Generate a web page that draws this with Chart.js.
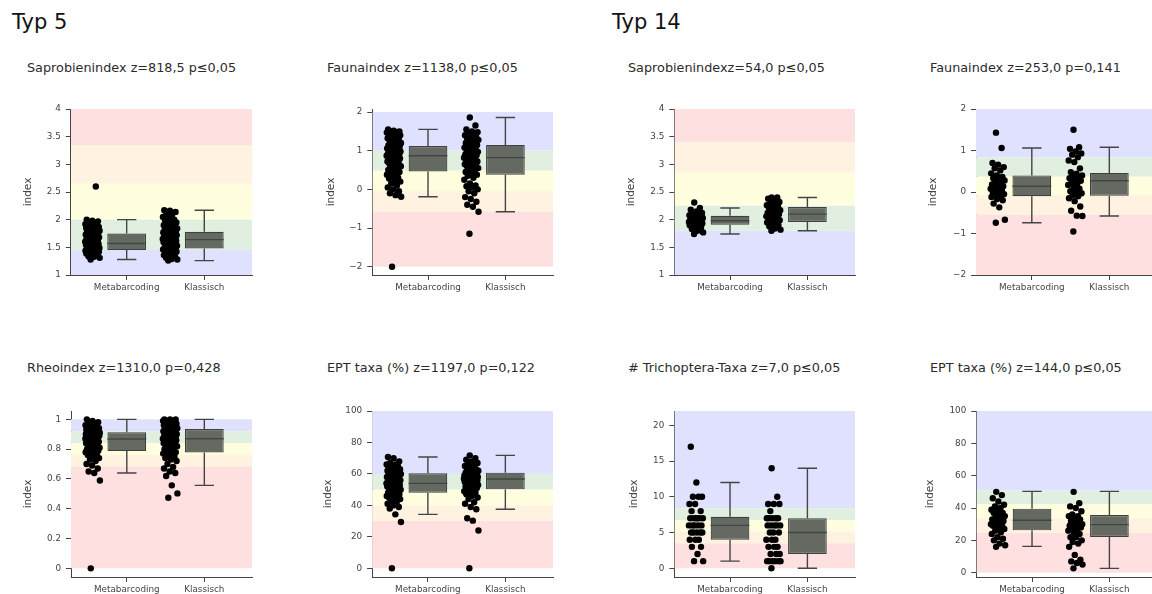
<!DOCTYPE html>
<html>
<head>
<meta charset="utf-8">
<script src="https://cdn.jsdelivr.net/npm/chart.js@4.4.1/dist/chart.umd.min.js"></script>
<style>
  html, body { margin:0; padding:0; width:1152px; height:594px; overflow:hidden; background:#fff; }
  body { position:relative; font-family:"DejaVu Sans", Verdana, sans-serif; }
  .txt { position:absolute; white-space:nowrap; line-height:1; }
  .head { font-size:21px; color:#111; }
  .sub { font-size:12.8px; color:#2b2b2b; }
  canvas { position:absolute; }
</style>
</head>
<body>
<script>
// ---------- categories and headings ----------
const categories = ['Metabarcoding', 'Klassisch'];
const groupHeadings = ['Typ 5', 'Typ 14'];
const panelTitles = [
  'Saprobienindex z=818,5 p≤0,05',
  'Faunaindex z=1138,0 p≤0,05',
  'Saprobienindexz=54,0 p≤0,05',
  'Faunaindex z=253,0 p=0,141',
  'Rheoindex z=1310,0 p=0,428',
  'EPT taxa (%) z=1197,0 p=0,122',
  '# Trichoptera-Taxa z=7,0 p≤0,05',
  'EPT taxa (%) z=144,0 p≤0,05'
];

// ---------- Typ 5: Saprobienindex ----------
const sapro5Meta = [1.28,1.31,1.33,1.34,1.36,1.37,1.39,1.40,1.41,1.42,1.43,1.43,1.44,1.44,1.44,1.45,1.45,1.45,1.46,
  1.46,1.47,1.48,1.49,1.50,1.51,1.52,1.53,1.54,1.55,1.55,1.56,1.57,1.57,1.58,1.59,1.60,1.61,1.62,
  1.63,1.64,1.65,1.66,1.67,1.68,1.69,1.70,1.71,1.72,1.73,1.74,1.75,1.76,1.77,1.78,1.79,1.80,1.80,
  1.81,1.82,1.83,1.84,1.85,1.85,1.86,1.87,1.88,1.89,1.90,1.91,1.92,1.94,1.95,1.97,1.98,2.00,2.60];
const sapro5Klass = [1.26,1.28,1.29,1.31,1.32,1.34,1.36,1.38,1.40,1.42,1.43,1.44,1.45,1.45,1.46,1.46,1.47,1.47,1.48,
  1.49,1.50,1.52,1.53,1.54,1.55,1.57,1.58,1.59,1.60,1.61,1.62,1.62,1.63,1.64,1.64,1.65,1.66,1.67,
  1.68,1.68,1.69,1.70,1.71,1.72,1.73,1.74,1.75,1.76,1.77,1.78,1.78,1.79,1.80,1.81,1.82,1.83,1.84,
  1.85,1.86,1.88,1.89,1.90,1.92,1.93,1.95,1.97,1.98,2.00,2.02,2.05,2.08,2.10,2.14,2.16,2.17];
const sapro5Box = [[1.28,1.45,1.57,1.75,2.00],[1.26,1.48,1.64,1.78,2.17]];
const sapro5Edges = [1, 1.45, 2.0, 2.65, 3.35, 4];
const sapro5Ticks = [1, 1.5, 2, 2.5, 3, 3.5, 4];

// ---------- Typ 5: Faunaindex ----------
const fauna5Meta = [-2.0,-0.19,-0.15,-0.10,-0.05,0.0,0.05,0.10,0.15,0.20,0.22,0.28,0.30,0.35,0.38,0.40,0.42,0.45,0.46,
  0.50,0.55,0.58,0.60,0.62,0.65,0.68,0.70,0.72,0.75,0.78,0.80,0.82,0.84,0.85,0.86,0.87,0.87,0.88,
  0.90,0.92,0.93,0.95,0.96,0.98,1.00,1.02,1.03,1.05,1.06,1.08,1.10,1.11,1.12,1.14,1.16,1.18,1.20,
  1.22,1.25,1.28,1.30,1.32,1.35,1.38,1.40,1.42,1.43,1.45,1.46,1.47,1.48,1.50,1.50,1.52,1.55];
const fauna5Klass = [-1.15,-0.58,-0.45,-0.40,-0.32,-0.25,-0.20,-0.10,-0.05,0.0,0.05,0.08,0.10,0.15,0.25,0.30,0.35,0.38,0.40,
  0.45,0.48,0.50,0.55,0.58,0.60,0.62,0.65,0.65,0.68,0.70,0.72,0.72,0.75,0.78,0.80,0.82,0.83,0.85,0.88,0.90,
  0.90,0.92,0.95,0.97,1.00,1.00,1.02,1.05,1.08,1.10,1.12,1.15,1.18,1.20,1.22,1.25,1.28,1.30,1.32,1.35,1.38,
  1.40,1.42,1.45,1.48,1.50,1.55,1.65,1.86];
const fauna5Box = [[-0.19,0.46,0.87,1.12,1.55],[-0.58,0.38,0.82,1.15,1.86]];
const fauna5Edges = [-2, -0.58, -0.04, 0.48, 1.0, 2];
const fauna5Ticks = [-2, -1, 0, 1, 2];

// ---------- Typ 14: Saprobienindex ----------
const sapro14Meta = [1.74,1.77,1.80,1.83,1.86,1.88,1.90,1.91,1.92,1.93,1.93,1.94,1.95,1.95,1.96,1.97,1.98,1.98,
  1.99,2.00,2.01,2.02,2.03,2.04,2.05,2.06,2.07,2.08,2.09,2.10,2.12,2.15,2.18,2.21,2.31];
const sapro14Klass = [1.80,1.82,1.84,1.88,1.90,1.93,1.95,1.96,1.97,1.99,2.00,2.02,2.04,2.05,2.06,2.08,2.09,2.10,
  2.11,2.12,2.14,2.15,2.17,2.19,2.21,2.23,2.24,2.26,2.28,2.30,2.32,2.35,2.38,2.40,2.40];
const sapro14Box = [[1.74,1.91,1.98,2.07,2.21],[1.80,1.96,2.10,2.23,2.40]];
const sapro14Edges = [1, 1.8, 2.25, 2.85, 3.4, 4];
const sapro14Ticks = [1, 1.5, 2, 2.5, 3, 3.5, 4];

// ---------- Typ 14: Faunaindex ----------
const fauna14Meta = [-0.74,-0.67,-0.37,-0.28,-0.20,-0.17,-0.12,-0.10,-0.08,-0.05,-0.02,0.0,0.03,0.05,0.08,0.10,0.12,
  0.14,0.16,0.18,0.22,0.25,0.28,0.30,0.33,0.36,0.40,0.45,0.52,0.57,0.60,0.66,0.70,1.06,1.43];
const fauna14Klass = [-0.95,-0.58,-0.57,-0.45,-0.35,-0.22,-0.15,-0.10,-0.08,-0.03,0.0,0.02,0.08,0.12,0.17,0.20,0.24,
  0.27,0.30,0.33,0.36,0.38,0.40,0.44,0.48,0.57,0.72,0.76,0.84,0.90,0.93,0.98,1.04,1.08,1.50];
const fauna14Box = [[-0.74,-0.10,0.14,0.40,1.06],[-0.58,-0.09,0.27,0.46,1.08]];
const fauna14Edges = [-2, -0.55, -0.08, 0.37, 0.83, 2];
const fauna14Ticks = [-2, -1, 0, 1, 2];

// ---------- Typ 5: Rheoindex ----------
const rheo5Meta = [0.0,0.59,0.64,0.65,0.67,0.69,0.70,0.72,0.73,0.74,0.75,0.76,0.76,0.77,0.78,0.78,0.79,0.79,0.80,0.80,
  0.80,0.81,0.81,0.82,0.82,0.83,0.83,0.84,0.84,0.85,0.85,0.85,0.86,0.86,0.86,0.87,0.87,0.87,0.88,0.88,0.88,0.88,
  0.89,0.89,0.89,0.89,0.90,0.90,0.90,0.90,0.90,0.90,0.91,0.91,0.91,0.91,0.91,0.92,0.92,0.92,0.93,0.93,0.93,
  0.94,0.94,0.95,0.95,0.95,0.96,0.96,0.97,0.97,0.98,0.99,1.0];
const rheo5Klass = [0.474,0.503,0.557,0.62,0.64,0.65,0.67,0.68,0.70,0.72,0.73,0.74,0.75,0.76,0.77,0.77,0.78,0.78,
  0.79,0.80,0.80,0.81,0.82,0.82,0.83,0.83,0.84,0.84,0.85,0.85,0.86,0.86,0.86,0.87,0.87,0.87,0.88,0.88,0.88,
  0.89,0.89,0.89,0.90,0.90,0.90,0.91,0.91,0.91,0.92,0.92,0.92,0.93,0.93,0.93,0.94,0.94,0.94,0.95,0.95,0.95,
  0.96,0.96,0.96,0.97,0.97,0.97,0.98,0.98,0.98,0.99,0.99,0.99,1.0,1.0,1.0];
const rheo5Box = [[0.64,0.787,0.868,0.913,1.0],[0.557,0.778,0.87,0.935,1.0]];
const rheo5Edges = [0, 0.68, 0.76, 0.84, 0.92, 1];
const rheo5Ticks = [0, 0.2, 0.4, 0.6, 0.8, 1];

// ---------- Typ 5: EPT taxa (%) ----------
const ept5Meta = [0,29.4,34.3,38,39,40,41,42,43,44,45,45,45,46,46,47,47,47,48,48,49,49,50,50,50,51,51,52,52,52,53,53,53,
  53,54,54,54,54,55,55,55,56,56,56,57,57,57,58,58,58,58,59,59,59,60,60,60,61,61,61,62,62,62,63,63,64,64,65,65,
  66,66,67,68,70,70.8];
const ept5Klass = [0,24,30.3,31.8,37.5,39,41,42,44,45,46,47,48,48,49,50,50,51,52,52,52,53,53,54,54,54,55,55,55,
  56,56,56,56,57,57,57,57,57,57,58,58,58,58,58,58,59,59,59,59,60,60,60,61,61,61,62,62,62,63,63,64,65,65,66,
  67,68,69,70,71.8];
const ept5Box = [[34.3,48.1,54.0,60.4,70.8],[37.5,50.2,56.8,60.8,71.8]];
const ept5Edges = [0, 30, 40, 50, 60, 100];
const ept5Ticks = [0, 20, 40, 60, 80, 100];

// ---------- Typ 14: # Trichoptera-Taxa ----------
const tricho14Meta = [1,1,2,3,3,4,4,4,5,5,5,5,5,6,6,6,6,6,7,7,7,7,7,7,8,8,9,9,10,10,10,12,17];
const tricho14Klass = [0,1,1,1,1,1,1,2,2,2,3,3,3,4,4,4,5,5,5,6,6,6,6,6,7,7,7,7,7,8,9,9,9,10,14];
const tricho14Box = [[1,4,6,7.2,12],[0,2,5,7,14]];
const tricho14Edges = [0, 3.5, 5.15, 6.75, 8.4, 22];
const tricho14Ticks = [0, 5, 10, 15, 20];

// ---------- Typ 14: EPT taxa (%) ----------
const ept14Meta = [16,17,18,20,21,22,24,25,26,27,28,29,29,30,30,31,32,32,33,33,34,35,35,36,37,37,38,39,40,41,42,44,46,48,50];
const ept14Klass = [2.7,5,6,7,8,11,16,18,19,20,22,22,24,25,26,27,27,28,28,29,29,30,30,31,32,33,34,35,35,36,38,40,41,43,50];
const ept14Box = [[16.3,26.2,32.4,39.6,50.3],[2.7,22.1,29.7,35.7,50.3]];
const ept14Edges = [0, 24.5, 33.5, 42.2, 51, 100];
const ept14Ticks = [0, 20, 40, 60, 80, 100];

// ---------- styling ----------
const bandFill = { red:'#ffe0e0', orange:'#fff2e1', yellow:'#ffffe0', green:'#e1efe1', blue:'#e0e0ff' };
const saproOrder = ['blue','green','yellow','orange','red'];
const indexOrder = ['red','orange','yellow','green','blue'];
const FONT = '"DejaVu Sans", Verdana, sans-serif';
const AXIS = '#444';
const W = 181, H = 166, T = 12, R = 10, B = 30;
const BOX_W = 0.5, PT_OFF = -0.44, JIT = 0.095;
const X_MIN = -0.72, X_MAX = 1.615;

// panel placement (plot-area origin) and axis ranges
const panels = [
  { title:0, left:71,  top:109, tx:27,  ty:62,  gap:42.5, meta:sapro5Meta,  klass:sapro5Klass,  box:sapro5Box,  edges:sapro5Edges,  ticks:sapro5Ticks,  yr:[1,4],           colours:saproOrder },
  { title:1, left:372, top:109, tx:327, ty:62,  gap:41,   meta:fauna5Meta,  klass:fauna5Klass,  box:fauna5Box,  edges:fauna5Edges,  ticks:fauna5Ticks,  yr:[-2.215,2.078],  colours:indexOrder },
  { title:2, left:674, top:109, tx:628, ty:62,  gap:43,   meta:sapro14Meta, klass:sapro14Klass, box:sapro14Box, edges:sapro14Edges, ticks:sapro14Ticks, yr:[1,4],           colours:saproOrder },
  { title:3, left:976, top:109, tx:930, ty:62,  gap:42.7, meta:fauna14Meta, klass:fauna14Klass, box:fauna14Box, edges:fauna14Edges, ticks:fauna14Ticks, yr:[-2,2],          colours:indexOrder },
  { title:4, left:71,  top:411, tx:27,  ty:362, gap:42.7, meta:rheo5Meta,   klass:rheo5Klass,   box:rheo5Box,   edges:rheo5Edges,   ticks:rheo5Ticks,   yr:[-0.058,1.056],  colours:indexOrder },
  { title:5, left:372, top:411, tx:327, ty:362, gap:43.8, meta:ept5Meta,    klass:ept5Klass,    box:ept5Box,    edges:ept5Edges,    ticks:ept5Ticks,    yr:[-5.53,100],     colours:indexOrder },
  { title:6, left:674, top:411, tx:628, ty:362, gap:40,   meta:tricho14Meta,klass:tricho14Klass,box:tricho14Box,edges:tricho14Edges,ticks:tricho14Ticks,yr:[-1.22,22],       colours:indexOrder },
  { title:7, left:976, top:411, tx:930, ty:362, gap:46,   meta:ept14Meta,   klass:ept14Klass,   box:ept14Box,   edges:ept14Edges,   ticks:ept14Ticks,   yr:[-2.66,100],     colours:indexOrder }
];

function addText(text, cls, x, y) {
  const d = document.createElement('div');
  d.className = 'txt ' + cls;
  d.style.left = x + 'px';
  d.style.top = y + 'px';
  d.textContent = text;
  document.body.appendChild(d);
}

// horizontal spread of the strip points (golden-ratio sequence keeps them evenly scattered)
function spread(i) {
  const f = (i * 0.6180339887 + 0.37) % 1;
  return (f - 0.5) * 2 * JIT;
}

function whiskerSegments(box) {
  const pts = [];
  const hw = BOX_W / 2, cw = BOX_W / 4;
  box.forEach((s, c) => {
    const [lo, q1, med, q3, hi] = s;
    pts.push({x:c-hw, y:med}, {x:c+hw, y:med}, {x:c, y:null});
    pts.push({x:c, y:lo}, {x:c, y:q1}, {x:c, y:null});
    pts.push({x:c, y:q3}, {x:c, y:hi}, {x:c, y:null});
    pts.push({x:c-cw, y:lo}, {x:c+cw, y:lo}, {x:c, y:null});
    pts.push({x:c-cw, y:hi}, {x:c+cw, y:hi}, {x:c, y:null});
  });
  return pts;
}

function fmtTick(v) {
  return String(v).replace('-', '\u2212');
}

function drawPanel(p) {
  const L = p.gap + 6.3;
  const cv = document.createElement('canvas');
  cv.width = Math.round(L + W + R);
  cv.height = T + H + B;
  cv.style.left = (p.left - L) + 'px';
  cv.style.top = (p.top - T) + 'px';
  document.body.appendChild(cv);

  const datasets = [];
  for (let k = 0; k < p.edges.length - 1; k++) {
    datasets.push({
      type:'line',
      data:[{x:X_MIN, y:p.edges[k+1]}, {x:X_MAX, y:p.edges[k+1]}],
      fill:{value:p.edges[k]},
      backgroundColor:bandFill[p.colours[k]],
      borderWidth:0, pointRadius:0, order:10
    });
  }
  datasets.push({
    type:'bar',
    data:p.box.map((s, c) => ({x:c, y:[s[1], s[3]]})),
    backgroundColor:'#646a62',
    borderColor:'#3f3f3f',
    borderWidth:1.2,
    borderSkipped:false,
    barPercentage:BOX_W,
    categoryPercentage:1,
    grouped:false,
    order:2
  });
  datasets.push({
    type:'line',
    data:whiskerSegments(p.box),
    borderColor:'#444',
    borderWidth:1.4,
    pointRadius:0,
    spanGaps:false,
    fill:false,
    order:1
  });
  [p.meta, p.klass].forEach((vals, c) => {
    datasets.push({
      type:'scatter',
      data:vals.map((v, i) => ({x:c + PT_OFF + spread(i), y:v})),
      pointRadius:3.2,
      pointBackgroundColor:'#000',
      pointBorderWidth:0,
      order:0
    });
  });

  new Chart(cv, {
    type:'scatter',
    data:{ datasets },
    options:{
      responsive:false,
      animation:false,
      devicePixelRatio:1,
      events:[],
      layout:{ padding:{ left:0, top:T, right:R, bottom:0 } },
      plugins:{ legend:{display:false}, tooltip:{enabled:false} },
      scales:{
        x:{
          type:'linear', min:X_MIN, max:X_MAX, offset:false,
          afterBuildTicks:(s) => { s.ticks = categories.map((_, i) => ({value:i})); },
          afterFit:(s) => { s.height = B; },
          ticks:{ callback:(v) => categories[v], color:AXIS, font:{family:FONT, size:8.8}, padding:2, maxRotation:0, autoSkip:false },
          grid:{ display:true, offset:false, drawOnChartArea:false, drawTicks:true, tickLength:5, color:AXIS },
          border:{ display:true, color:AXIS, width:1 }
        },
        y:{
          type:'linear', min:p.yr[0], max:p.yr[1],
          afterBuildTicks:(s) => { s.ticks = p.ticks.map(v => ({value:v})); },
          afterFit:(s) => { s.width = L; },
          ticks:{ callback:fmtTick, color:AXIS, font:{family:FONT, size:8.8}, padding:5 },
          grid:{ display:true, offset:false, drawOnChartArea:false, drawTicks:true, tickLength:5, color:AXIS },
          border:{ display:true, color:AXIS, width:1 },
          title:{ display:true, text:'index', color:AXIS, font:{family:FONT, size:10.5}, padding:0 }
        }
      }
    }
  });

  addText(panelTitles[p.title], 'sub', p.tx, p.ty);
}

addText(groupHeadings[0], 'head', 12, 12);
addText(groupHeadings[1], 'head', 612, 12);
panels.forEach(drawPanel);
</script>
</body>
</html>
